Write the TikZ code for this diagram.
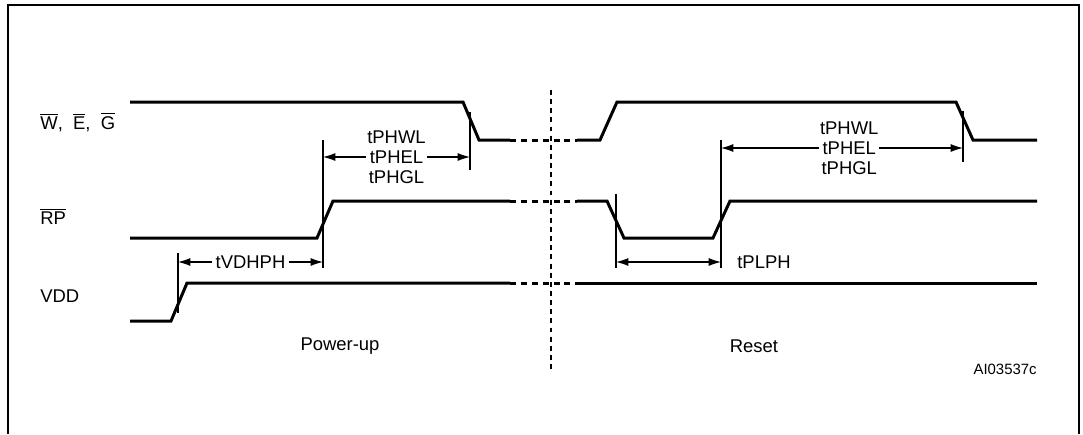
\documentclass[tikz,border=0pt]{standalone}
\usepackage{fontspec}
\setmainfont{Liberation Sans}
\usetikzlibrary{arrows.meta,positioning,calc}
\tikzstyle{SIGNAL} = [line width=1.7pt, line join=miter]
\tikzstyle{GAP} = [line width=1.7pt, dash pattern=on 3.4pt off 2.8pt]
\tikzstyle{DIVIDER} = [line width=0.75pt, dash pattern=on 2.8pt off 2.4pt]
\tikzstyle{TICK} = [line width=0.6pt]
\tikzstyle{DIM} = [line width=0.6pt, {Latex[length=7pt,width=4.5pt]}-{Latex[length=7pt,width=4.5pt]}]
\tikzstyle{LABEL} = [inner sep=0pt, font=\fontsize{10.5}{12.6}\selectfont]
\tikzstyle{ONLINE} = [LABEL, fill=white, inner sep=2pt]
\tikzstyle{SMALL} = [inner sep=0pt, font=\fontsize{8.5}{10}\selectfont]

\begin{document}
\begin{tikzpicture}[x=0.02cm, y=-0.02cm]
% Define
\useasboundingbox (0,0) rectangle (1083,434);
\draw[line width=1.1pt] (8,434) -- (8,5) -- (1079,5) -- (1079,434);
% Signal names
\node[LABEL, anchor=west] (W_NAME) at (40,122) {$\overline{\mbox{W}}$,\ \ $\overline{\mbox{E}}$,\ \ $\overline{\mbox{G}}$};
\node[LABEL, anchor=west] (RP_NAME) at (40,216) {$\overline{\mbox{RP}}$};
\node[LABEL, anchor=west] (VDD_NAME) at (40,296) {VDD};
% Waveforms
\draw[SIGNAL] (130,102) -- (463,102) -- (479,140) -- (510,140);
\draw[GAP] (510,140) -- (577,140);
\draw[SIGNAL] (577,140) -- (600,140) -- (617,102) -- (956,102) -- (973,140) -- (1037,140);
%
\draw[SIGNAL] (130,238) -- (317,238) -- (333,201) -- (510,201);
\draw[GAP] (510,201) -- (577,201);
\draw[SIGNAL] (577,201) -- (607,201) -- (624,238) -- (713,238) -- (730,201) -- (1037,201);
%
\draw[SIGNAL] (130,321) -- (171,321) -- (187,283) -- (510,283);
\draw[GAP] (510,283) -- (577,283);
\draw[SIGNAL] (577,283) -- (1037,283);
% Divider
\coordinate (DIV_TOP) at (551,90);
\coordinate (DIV_BOT) at (551,371);
\draw[DIVIDER] (DIV_TOP) -- (DIV_BOT);
% Ticks
\coordinate (VDD_T_TOP) at (178,253);
\coordinate (VDD_T_BOT) at (178,313);
\coordinate (RP_T1_TOP) at (323,140);
\coordinate (RP_T1_BOT) at (323,268);
\coordinate (W_T1_TOP) at (470,112);
\coordinate (W_T1_BOT) at (470,170);
\coordinate (RP_T2_TOP) at (616,194);
\coordinate (RP_T2_BOT) at (616,268);
\coordinate (RP_T3_TOP) at (721,140);
\coordinate (RP_T3_BOT) at (721,268);
\coordinate (W_T2_TOP) at (963,111);
\coordinate (W_T2_BOT) at (963,162);
\foreach \t in {VDD_T, RP_T1, W_T1, RP_T2, RP_T3, W_T2}
  \draw[TICK] (\t_TOP) -- (\t_BOT);
% LINES and ARROWS
\coordinate (TVDHPH_L) at (178,262);
\coordinate (TVDHPH_R) at (323,262);
\draw[DIM] (TVDHPH_L) -- node[ONLINE] (TVDHPH) {tVDHPH} (TVDHPH_R);
%
\coordinate (TPHEL1_L) at (323,157);
\coordinate (TPHEL1_R) at (470,157);
\draw[DIM] (TPHEL1_L) -- node[ONLINE] (TPHEL_1) {tPHEL} (TPHEL1_R);
\node[LABEL, above=1.7pt of TPHEL_1] (TPHWL_1) {tPHWL};
\node[LABEL, below=1.7pt of TPHEL_1] (TPHGL_1) {tPHGL};
%
\coordinate (TPHEL2_L) at (721,148);
\coordinate (TPHEL2_R) at (963,148);
\draw[DIM] (TPHEL2_L) -- node[ONLINE, pos=0.53] (TPHEL_2) {tPHEL} (TPHEL2_R);
\node[LABEL, above=1.7pt of TPHEL_2] (TPHWL_2) {tPHWL};
\node[LABEL, below=1.7pt of TPHEL_2] (TPHGL_2) {tPHGL};
%
\coordinate (TPLPH_L) at (616,262);
\coordinate (TPLPH_R) at (721,262);
\draw[DIM] (TPLPH_L) -- (TPLPH_R);
\node[LABEL, anchor=west, right=0.32cm of TPLPH_R] (TPLPH) {tPLPH};
% Phases
\node[LABEL] (POWERUP) at (340,346) {Power-up};
\node[LABEL] (RESET) at (754,346) {Reset};
\node[SMALL, anchor=east] (FIGID) at (1037,369) {AI03537c};
\end{tikzpicture}
\end{document}
